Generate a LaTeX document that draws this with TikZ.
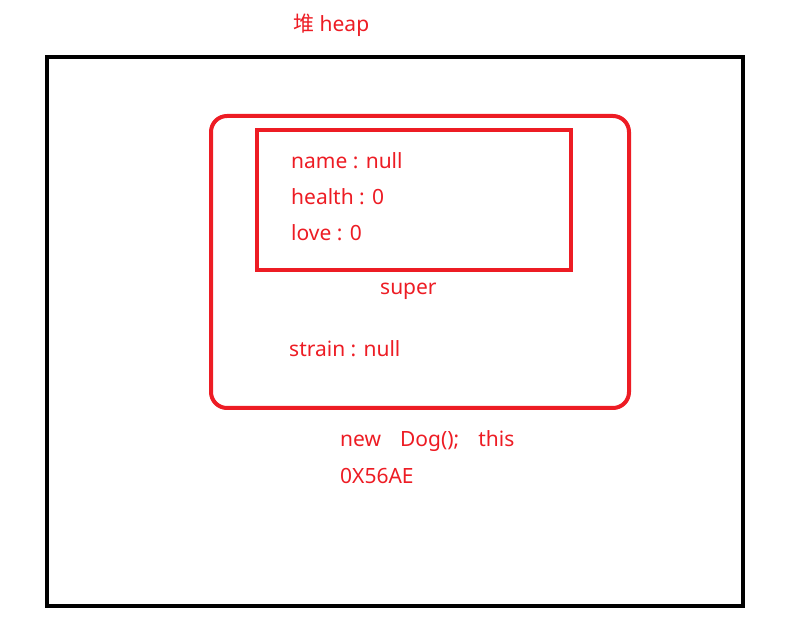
\documentclass[tikz,border=0pt]{standalone}
\usepackage{fontspec}
\setmainfont{Noto Sans}
\newfontfamily\cjk{Noto Sans CJK SC}
\definecolor{paintred}{RGB}{237,28,36}
\begin{document}
\begin{tikzpicture}[x=1pt,y=-1pt,
  every node/.style={text=paintred,font=\fontsize{21}{25}\selectfont,inner sep=0pt,anchor=base west}]
\useasboundingbox (0,0) rectangle (812,628);
% heap
\draw[line width=4.5pt] (47,57) rectangle (743,606);
\node (heap) at (293,31.5) {{\cjk 堆} heap};
% object
\draw[paintred,line width=4pt,rounded corners=16pt] (211,116) rectangle (629,408);
\draw[paintred,line width=4pt] (257,130) rectangle (571,270);
\foreach \n/\t/\y in {name/name : null/169, health/health : 0/205, love/love : 0/241}
  \node (\n) at (291,\y) {\t};
\node (super) at (380,295) {super};
\node (strain) at (289,357) {strain : null};
\node (new) at (340,447) {new\hspace{19pt}Dog();\hspace{19pt}this};
\node (addr) at (340,483) {0X56AE};
\end{tikzpicture}
\end{document}
